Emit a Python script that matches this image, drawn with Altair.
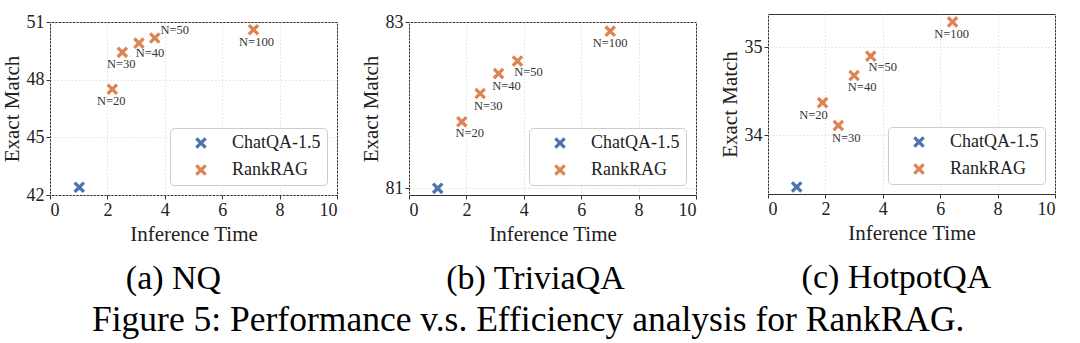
import altair as alt
import pandas as pd

# ---------------- data ----------------
MODELS = ["ChatQA-1.5", "RankRAG"]
COLORS = ["#4c72b0", "#dd8452"]
N_LABELS = ["N=20", "N=30", "N=40", "N=50", "N=100"]

nq_chat_x = [1.02]
nq_chat_y = [42.4]
nq_rank_x = [2.17, 2.52, 3.10, 3.65, 7.09]
nq_rank_y = [47.5, 49.42, 49.9, 50.17, 50.6]

tqa_chat_x = [1.0]
tqa_chat_y = [81.0]
tqa_rank_x = [1.84, 2.48, 3.12, 3.78, 7.01]
tqa_rank_y = [81.8, 82.14, 82.38, 82.53, 82.89]

hqa_chat_x = [1.0]
hqa_chat_y = [33.41]
hqa_rank_x = [1.9, 2.45, 3.0, 3.58, 6.43]
hqa_rank_y = [34.37, 34.11, 34.68, 34.9, 35.29]

x_ticks = [0, 2, 4, 6, 8, 10]
nq_y_ticks = [42, 45, 48, 51]
tqa_y_ticks = [81, 82, 83]
hqa_y_ticks = [34, 35]

# ---------------- styling (not data) ----------------
FONT = "Liberation Serif, Times New Roman, serif"
X_PATH = ("M-1,-0.6L-0.6,-1L0,-0.4L0.6,-1L1,-0.6L0.4,0L1,0.6L0.6,1L0,0.4"
          "L-0.6,1L-1,0.6L-0.4,0Z")

nq_offsets = {"N=20": (-1, 12), "N=30": (-1, 12), "N=40": (11, 10),
              "N=50": (20, -8), "N=100": (3, 12)}
tqa_offsets = {"N=20": (8, 11), "N=30": (8, 12), "N=40": (8, 12),
               "N=50": (11, 11), "N=100": (0, 12)}
hqa_offsets = {"N=20": (-9, 12), "N=30": (8, 12), "N=40": (8, 12),
               "N=50": (12, 11), "N=100": (-1, 12)}


def spacer(h):
    return (
        alt.Chart(pd.DataFrame({"v": [0]}))
        .mark_point(opacity=0)
        .encode(x=alt.value(0), y=alt.value(0))
        .properties(width=1, height=h, view=alt.ViewBackground(stroke="transparent"))
    )


def panel(chat_x, chat_y, rank_x, rank_y, ydomain, yticks, height, offsets, subtitle,
          top_gap, sub_dx):
    rows = []
    for x, y in zip(chat_x, chat_y):
        rows.append({"model": MODELS[0], "x": x, "y": y, "label": ""})
    for x, y, lab in zip(rank_x, rank_y, N_LABELS):
        rows.append({"model": MODELS[1], "x": x, "y": y, "label": lab})
    df = pd.DataFrame(rows)
    base = alt.Chart(df)
    xenc = alt.X("x:Q", scale=alt.Scale(domain=[0, 10], nice=False),
                 axis=alt.Axis(values=x_ticks, title="Inference Time", format="d"))
    yenc = alt.Y("y:Q", scale=alt.Scale(domain=ydomain, nice=False, zero=False),
                 axis=alt.Axis(values=yticks, title="Exact Match", format="d"))
    pts = base.mark_point(shape=X_PATH, filled=True, size=135, opacity=1).encode(
        x=xenc, y=yenc,
        color=alt.Color("model:N", scale=alt.Scale(domain=MODELS, range=COLORS),
                        legend=alt.Legend(title=None, orient="bottom-right", offset=10,
                                          symbolType=X_PATH, symbolSize=135,
                                          labelFont=FONT, labelFontSize=18,
                                          labelColor="#222", labelOffset=22,
                                          symbolOffset=16, padding=6, rowPadding=9,
                                          fillColor="white", strokeColor="#cccccc",
                                          cornerRadius=4)),
    )
    texts = []
    for lab in N_LABELS:
        dx, dy = offsets[lab]
        texts.append(
            base.transform_filter(alt.datum.label == lab)
            .mark_text(dx=dx, dy=dy, font=FONT, fontSize=12.5, color="#333",
                       align="center", baseline="middle")
            .encode(x="x:Q", y="y:Q", text="label:N")
        )
    layer = alt.layer(pts, *texts).properties(
        width=287, height=height,
        title=alt.Title(subtitle, orient="bottom", frame="group", anchor="middle",
                        font=FONT, fontSize=34, fontWeight="normal", color="black",
                        offset=18, dx=sub_dx),
    )
    return (
        alt.vconcat(spacer(top_gap), layer, spacing=0)
        .resolve_scale(color="independent")
        .resolve_legend(color="independent")
    )


p1 = panel(nq_chat_x, nq_chat_y, nq_rank_x, nq_rank_y, [42, 51], nq_y_ticks, 173,
           nq_offsets, "(a) NQ", 1, -20)
p2 = panel(tqa_chat_x, tqa_chat_y, tqa_rank_x, tqa_rank_y, [80.92, 83], tqa_y_ticks, 173,
           tqa_offsets, "(b) TriviaQA", 1, -17)
p3 = panel(hqa_chat_x, hqa_chat_y, hqa_rank_x, hqa_rank_y, [33.33, 35.38], hqa_y_ticks, 180,
           hqa_offsets, "(c) HotpotQA", 4, -15)

chart = (
    alt.hconcat(p1, p2, p3, spacing=21)
    .resolve_scale(color="independent")
    .resolve_legend(color="independent")
    .properties(
        title=alt.Title("Figure 5: Performance v.s. Efficiency analysis for RankRAG.",
                        orient="bottom", anchor="middle", font=FONT, fontSize=35.5,
                        fontWeight="normal", color="black", offset=6),
        padding={"left": 0, "top": 4, "right": 5, "bottom": 2},
        background="white",
    )
    .configure_view(stroke="#333", strokeWidth=1)
    .configure_axis(
        labelFont=FONT, titleFont=FONT, labelFontSize=18, titleFontSize=21,
        titleFontWeight="normal", labelColor="#222", titleColor="#222",
        tickColor="#333", tickSize=4, labelPadding=2, titlePadding=4,
        domain=False, grid=True, gridColor="#d9d9d9", gridDash=[1.5, 2], gridWidth=0.8,
    )
)

chart.save("out.html", embed_options={"renderer": "svg", "actions": False})
